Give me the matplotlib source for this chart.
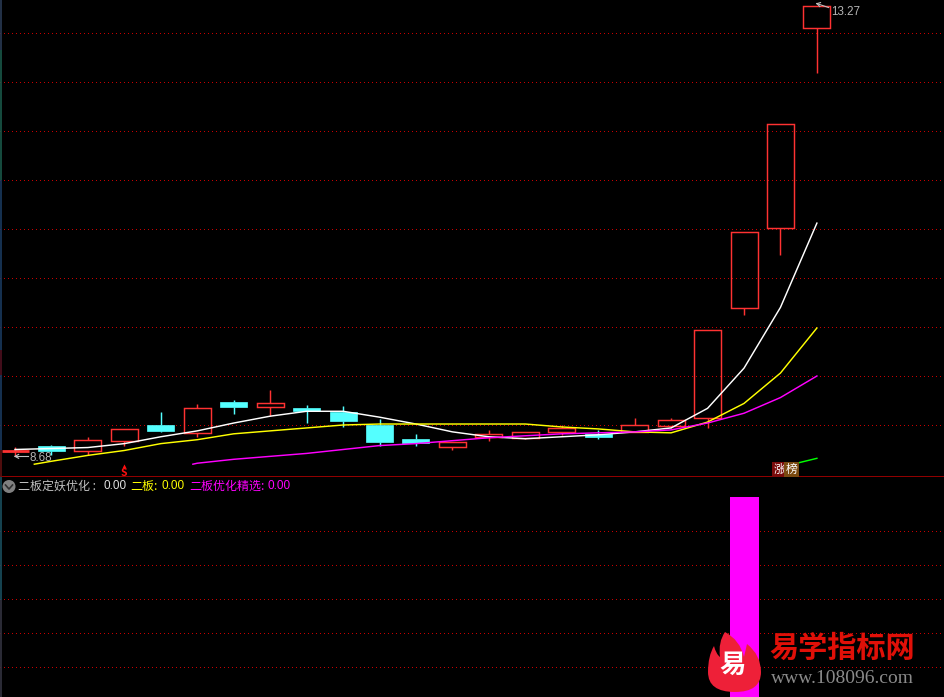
import matplotlib
matplotlib.use('Agg')
import matplotlib.pyplot as plt
from matplotlib.patches import Rectangle, PathPatch, Ellipse
from matplotlib.lines import Line2D
from matplotlib.path import Path

plt.rcParams['font.family'] = ['Noto Sans CJK SC', 'DejaVu Sans']

# daily candles
opens  = [8.73,8.79,8.73,8.84,9.00,8.92,9.23,9.18,9.17,9.13,9.00,8.86,8.78,8.88,8.87,8.93,8.91,8.93,8.99,9.07,10.19,11.01,13.05]
closes = [8.73,8.73,8.85,8.96,8.94,9.17,9.18,9.22,9.14,9.04,8.83,8.82,8.83,8.91,8.93,8.97,8.88,9.00,9.05,9.97,10.97,12.07,13.28]
highs  = [8.78,8.80,8.88,8.96,9.13,9.21,9.26,9.36,9.20,9.19,9.06,8.91,8.83,8.95,8.93,9.00,8.95,9.07,9.07,9.97,10.97,12.07,13.28]
lows   = [8.68,8.69,8.69,8.79,8.93,8.88,9.11,9.09,9.02,8.98,8.79,8.79,8.74,8.84,8.86,8.90,8.86,8.93,8.97,8.97,10.12,10.73,12.59]

# moving averages
ma_white = [8.75,8.76,8.77,8.81,8.88,8.94,9.02,9.09,9.14,9.14,9.08,9.01,8.93,8.88,8.86,8.88,8.90,8.93,8.97,9.17,9.58,10.20,11.06]
ma_yellow_x = [0.53,1,2,3,4,5,6,7,8,9,10,11,12,13,14,15,16,17,18,19,20,21,22]
ma_yellow = [8.60,8.63,8.69,8.74,8.81,8.85,8.91,8.94,8.97,9.00,9.01,9.01,9.01,9.01,9.01,8.98,8.96,8.93,8.92,9.03,9.22,9.53,9.99]
ma_magenta_x = [4.88,5,6,7,8,9,10,11,12,13,14,15,16,17,18,19,20,21,22]
ma_magenta = [8.60,8.61,8.65,8.68,8.71,8.75,8.79,8.81,8.84,8.87,8.89,8.91,8.92,8.93,8.95,9.02,9.12,9.28,9.50]
green_x = [21.45,22]
green = [8.61,8.66]

price_grid = [9.0,9.5,10.0,10.5,11.0,11.5,12.0,12.5,13.0]

# lower panel
signal_x = [20]
signal = [1.0]
signal_grid = [0.15,0.32,0.49,0.66,0.83]

RED = '#ff3232'
CYAN = '#54ffff'
GRID = '#c80000'
DOTS = (0,(1,3))
LW = 1.05

fig = plt.figure(figsize=(9.44,6.97), dpi=100, facecolor='black')
ax = fig.add_axes([0, 220/697, 1, 477/697], facecolor='black')
ax2 = fig.add_axes([0, 0, 1, 220/697], facecolor='black')

x0 = -15/36.45
x1 = (944-15)/36.45
ax.set_xlim(x0, x1)
ax.set_ylim(13-(477-33)/98, 13+33/98)
ax2.set_xlim(x0, x1)
ax2.set_ylim(0, 1.1)

for a in (ax, ax2):
    a.set_xticks([])
    a.set_yticks([])
    for s in a.spines.values():
        s.set_visible(False)

# aliased so the dots stay separate, one pixel each
for g in price_grid:
    ax.axhline(g, color=GRID, lw=0.72, ls=DOTS, zorder=1, antialiased=False)
for g in signal_grid:
    ax2.axhline(g, color=GRID, lw=0.72, ls=DOTS, zorder=1, antialiased=False)

ax.axhline(ax.get_ylim()[0], color='#a00000', lw=1.3, zorder=5, clip_on=False)

def px(x, y):
    return (x/944, 1-y/697)

# left edge of the window, colour drifts along it
edge_y = [0,50,180,350,375,450,477,600,697]
edge_c = ['#2a3a55','#1a5a4a','#1a3a60','#501020','#1a3a60','#601010','#1a5060','#333340']
for k in range(len(edge_c)):
    fig.add_artist(Line2D([0.7/944,0.7/944],[1-edge_y[k]/697,1-edge_y[k+1]/697], color=edge_c[k], lw=1.2,
                          transform=fig.transFigure, solid_capstyle='butt'))

ax.plot(range(len(ma_white)), ma_white, color='white', lw=LW, zorder=4)
ax.plot(ma_yellow_x, ma_yellow, color='#ffff00', lw=LW, zorder=4)
ax.plot(ma_magenta_x, ma_magenta, color='#ff00ff', lw=LW, zorder=4)
ax.plot(green_x, green, color='#00ff00', lw=LW, zorder=4)

w = 27/36.45
for i in range(len(opens)):
    o, c, h, l = opens[i], closes[i], highs[i], lows[i]
    up = c >= o
    col = RED if up else CYAN
    top, bot = max(o,c), min(o,c)
    ax.plot([i,i],[top,h], color=col, lw=LW, zorder=3, solid_capstyle='butt')
    ax.plot([i,i],[bot,l], color=col, lw=LW, zorder=3, solid_capstyle='butt')
    if o == c:
        ax.plot([i-w/2,i+w/2],[o,o], color=col, lw=2, zorder=3, solid_capstyle='butt')
    elif up:
        ax.add_patch(Rectangle((i-w/2,bot), w, top-bot, facecolor='none', edgecolor=col, lw=LW, zorder=3))
    else:
        ax.add_patch(Rectangle((i-w/2,bot), w, top-bot, facecolor=col, edgecolor=col, lw=0.5, zorder=3))

# price notes
ax.annotate('8.68', xy=(0,8.68), xytext=(14,-2), textcoords='offset pixels', color='#b4b4b4',
            fontsize=8.4, va='center', family=['Liberation Sans'], zorder=6)
ax.plot([0,0.35],[8.68,8.68], color='#c0c0c0', lw=0.8, zorder=6)
ax.plot([0,0.1],[8.68,8.70], color='#c0c0c0', lw=0.8, zorder=6)
ax.plot([0,0.1],[8.68,8.66], color='#c0c0c0', lw=0.8, zorder=6)
ax.annotate('13.27', xy=(22,13.27), xytext=(14,-5), textcoords='offset pixels', color='#b4b4b4',
            fontsize=8.4, va='center', family=['Liberation Sans'], zorder=6)
ax.plot([22,22.32],[13.30,13.26], color='#c0c0c0', lw=0.8, zorder=6)
ax.plot([22,22.1],[13.30,13.31], color='#c0c0c0', lw=0.8, zorder=6)
ax.plot([22,22.08],[13.30,13.27], color='#c0c0c0', lw=0.8, zorder=6)

# S marker
ax.plot([3],[8.585], marker='^', ms=3, color='#ff1010', mew=0, zorder=6)
fig.text(123.5/944, 1-473/697, 'S', color='#ff1010', fontsize=7.5, fontweight='bold', ha='center', va='center')

# limit-up tag
fig.text(779/944, 1-469.5/697, '涨', color='white', fontsize=8.5, ha='center', va='center',
         bbox=dict(facecolor='#7a0a0a', edgecolor='none', pad=1))
fig.text(791.5/944, 1-469.5/697, '榜', color='white', fontsize=8.5, ha='center', va='center',
         bbox=dict(facecolor='#7a4a10', edgecolor='none', pad=1))

# header of lower panel
fig.add_artist(Ellipse(px(9,486.5), 13/944, 13/697, facecolor='#808080', edgecolor='none', transform=fig.transFigure))
fig.add_artist(Line2D([5.5/944,9/944,12.5/944],[1-485/697,1-489/697,1-485/697], color='#303030', lw=1.2,
                      transform=fig.transFigure))
fig.text(18.5/944, 1-486/697, '二板定妖优化 :', color='#c0c0c0', fontsize=8.64, va='center')
fig.text(103/944, 1-486/697, '0.00', color='#e0e0e0', fontsize=8.5, va='center', family=['Liberation Sans'])
fig.text(130/944, 1-486/697, '二板:', color='#ffff00', fontsize=8.64, va='center')
fig.text(162/944, 1-486/697, '0.00', color='#ffff00', fontsize=8.5, va='center', family=['Liberation Sans'])
fig.text(189.5/944, 1-486/697, '二板优化精选:', color='#ff00ff', fontsize=8.64, va='center')
fig.text(268/944, 1-486/697, '0.00', color='#ff00ff', fontsize=8.5, va='center', family=['Liberation Sans'])

ax2.bar(signal_x, signal, width=29/36.45, color='#ff00ff', zorder=3)

# watermark
flame = Path([px(725,632), px(740,640), px(744,657), px(747,644), px(761,655), px(761,672),
              px(761,692), px(735,692), px(708,692), px(708,672), px(708,656), px(714,646),
              px(716,654), px(720,657), px(718,642), px(725,632), px(725,632)],
             [Path.MOVETO, Path.CURVE3, Path.CURVE3, Path.LINETO, Path.CURVE3, Path.CURVE3,
              Path.CURVE3, Path.CURVE3, Path.CURVE3, Path.CURVE3, Path.CURVE3, Path.CURVE3,
              Path.CURVE3, Path.CURVE3, Path.CURVE3, Path.CURVE3, Path.CLOSEPOLY])
fig.add_artist(PathPatch(flame, facecolor='#ee2038', edgecolor='none', transform=fig.transFigure, zorder=5))
fig.text(733/944, 1-665/697, '易', color='white', fontsize=19, fontweight='bold', ha='center', va='center', zorder=6)
fig.text(842/944, 1-648/697, '易学指标网', color='#e01008', fontsize=21, fontweight='bold', ha='center', va='center', zorder=6)
fig.text(842/944, 1-678.5/697, 'www.108096.com', color='#8a8a8a', fontsize=14, ha='center', va='center',
         family=['Liberation Serif'], zorder=6)

fig.savefig('out.png', dpi=100, facecolor='black')
